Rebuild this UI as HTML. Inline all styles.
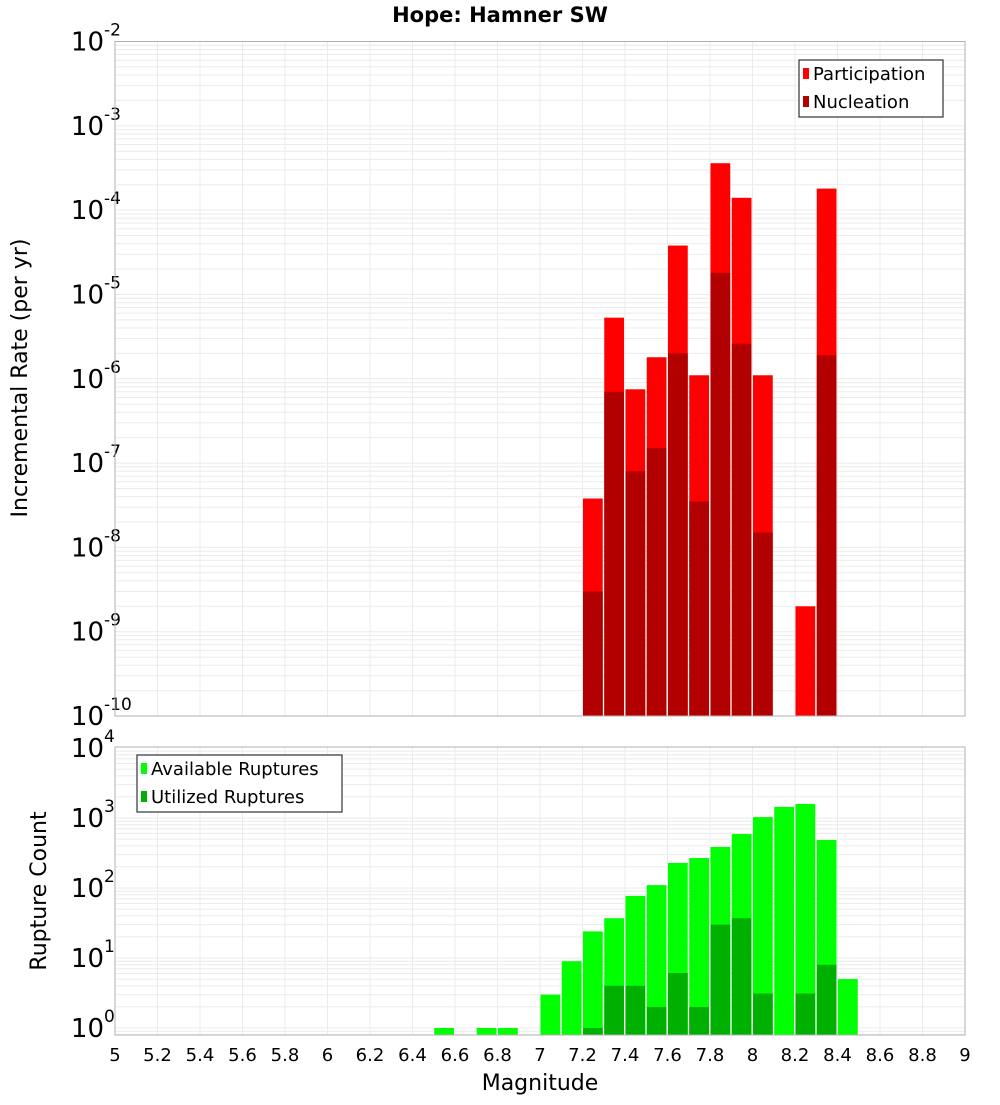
<!DOCTYPE html>
<html><head><meta charset="utf-8"><style>
body{margin:0;background:#fff;}
svg text{font-family:"DejaVu Sans","Liberation Sans",sans-serif;}
</style></head><body>
<svg id="chart" width="1000" height="1100" xmlns="http://www.w3.org/2000/svg">
<text x="500" y="22" text-anchor="middle" font-size="21" font-weight="bold">Hope: Hamner SW</text>
<g id="top"></g><g id="bot"></g>
<text x="540" y="1090" text-anchor="middle" font-size="22">Magnitude</text>
<text transform="translate(27,378) rotate(-90)" text-anchor="middle" font-size="22">Incremental Rate (per yr)</text>
<text transform="translate(46,891) rotate(-90)" text-anchor="middle" font-size="22">Rupture Count</text>
</svg>
<script>
const binCenters=[7.25,7.35,7.45,7.55,7.65,7.75,7.85,7.95,8.05,8.25,8.35];
const participation=[3.8e-8,5.3e-6,7.5e-7,1.8e-6,3.8e-5,1.1e-6,3.6e-4,1.4e-4,1.1e-6,2e-9,1.8e-4];
const nucleation=[3e-9,7e-7,8e-8,1.5e-7,2e-6,3.5e-8,1.8e-5,2.6e-6,1.5e-8,0,1.9e-6];
const countBins=[6.55,6.75,6.85,7.05,7.15,7.25,7.35,7.45,7.55,7.65,7.75,7.85,7.95,8.05,8.15,8.25,8.35,8.45];
const available=[1,1,1,3,9,24,37,77,110,228,268,385,590,1030,1440,1590,485,5];
const utilized=[0,0,0,0,0,1,4,4,2,6.1,2,30,37,3.1,0,3.1,8,0];
const xTicks=[5,5.2,5.4,5.6,5.8,6,6.2,6.4,6.6,6.8,7,7.2,7.4,7.6,7.8,8,8.2,8.4,8.6,8.8,9];
const topExps=[-2,-3,-4,-5,-6,-7,-8,-9,-10];
const botExps=[4,3,2,1,0];

const NS="http://www.w3.org/2000/svg";
const X0=115,X1=965;
const xs=m=>X0+(m-5)/4*(X1-X0);
function el(p,t,a){const e=document.createElementNS(NS,t);for(const k in a)e.setAttribute(k,a[k]);p.appendChild(e);return e;}
function panel(g,top,bot,yOf,lo,hi,exps,name){
  for(let d=Math.floor(lo);d<Math.ceil(hi);d++)for(let k=1;k<10;k++){
    const y=yOf(Math.pow(10,d)*k);if(y<top-0.5||y>bot+0.5)continue;
    const l=el(g,'line',{x1:X0,x2:X1,y1:y,y2:y,stroke:'#ebebeb','stroke-width':1});
    
    }
  xTicks.forEach(t=>{const l=el(g,'line',{x1:xs(t),x2:xs(t),y1:top,y2:bot,stroke:'#ebebeb','stroke-width':1});
    
    });
  exps.forEach(e=>{const y=yOf(Math.pow(10,e));
    const t=el(g,'text',{x:104,y:y+9,'text-anchor':'end','font-size':26});
    
    
    t.textContent='10';
    const s=el(g,'text',{x:104,y:y-6,'text-anchor':'start','font-size':17});
    
    
    s.textContent=String(e);});
}
// top panel
const gT=document.getElementById('top');
const TT=41.5,TB=716;
const yT=v=>TT+(-2-Math.log10(v))*(TB-TT)/8;
panel(gT,TT,TB,yT,-10,-2,topExps,'rate');
const bw=(xs(5.1)-xs(5))-1.5;
binCenters.forEach((c,i)=>{
  const x=xs(c-0.05)+0.5;
  if(participation[i]>0){const r=el(gT,'rect',{x:x,y:yT(participation[i]),width:bw,height:TB-yT(participation[i]),fill:'#ff0000'});
    
    }
  if(nucleation[i]>0){const r=el(gT,'rect',{x:x,y:yT(nucleation[i]),width:bw,height:TB-yT(nucleation[i]),fill:'#b20000'});
    
    }
});
const fT=el(gT,'rect',{x:X0,y:TT,width:X1-X0,height:TB-TT,fill:'none',stroke:'#b0b0b0'});


// bottom panel
const gB=document.getElementById('bot');
const BT=747,BB=1035;
const yB=v=>1028-Math.log10(v)*70;
panel(gB,BT,BB,yB,-1,4,botExps,'count');
countBins.forEach((c,i)=>{
  const x=xs(c-0.05)+0.5;
  if(available[i]>0){const r=el(gB,'rect',{x:x,y:yB(available[i]),width:bw,height:BB-yB(available[i]),fill:'#00ff00'});
    
    }
  if(utilized[i]>0){const r=el(gB,'rect',{x:x,y:yB(utilized[i]),width:bw,height:BB-yB(utilized[i]),fill:'#00b000'});
    
    }
});
const fB=el(gB,'rect',{x:X0,y:BT,width:X1-X0,height:BB-BT,fill:'none',stroke:'#b0b0b0'});


xTicks.forEach(t=>{const tx=el(gB,'text',{x:xs(t),y:1061,'text-anchor':'middle','font-size':18});
  
  
  tx.textContent=String(t);});
// legends
function legend(g,x,y,w,items,name){
  const b=el(g,'rect',{x:x,y:y,width:w,height:57,fill:'#fff',stroke:'#333','stroke-width':1.2});
  
  
  items.forEach((it,i)=>{
    const s=el(g,'rect',{x:x+4,y:y+8+i*28,width:6,height:11,fill:it[1]});
    
    
    const t=el(g,'text',{x:x+14,y:y+20+i*28,'font-size':18});
    
    
    t.textContent=it[0];});
}
legend(gT,799,60,144,[['Participation','#ff0000'],['Nucleation','#b20000']],'rate-legend');
legend(gB,137,755,205,[['Available Ruptures','#00ff00'],['Utilized Ruptures','#00b000']],'count-legend');
</script>
</body></html>
